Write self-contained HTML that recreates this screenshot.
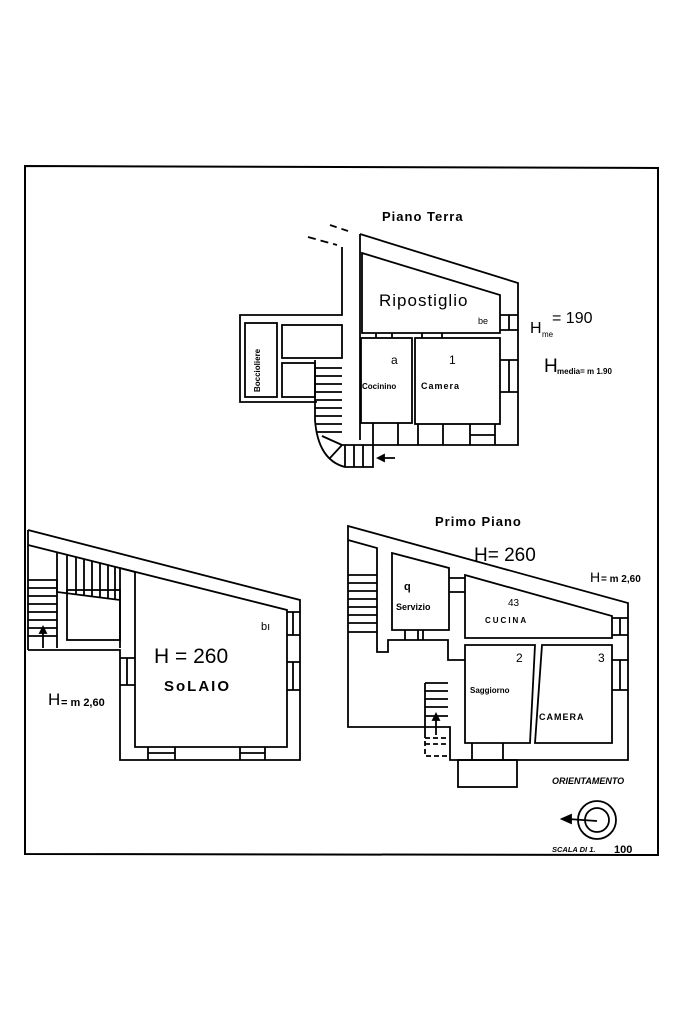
<!DOCTYPE html>
<html><head><meta charset="utf-8"><style>
html,body{margin:0;padding:0;background:#fff;}
svg{display:block}
text{font-family:"Liberation Sans",sans-serif;fill:#000}
</style></head><body>
<svg width="683" height="1023" viewBox="0 0 683 1023" xmlns="http://www.w3.org/2000/svg">
<g fill="none" stroke="#000" stroke-width="1.8">
<!-- frame -->
<path d="M25 166 L658 168 L658 855 L25 854 Z" stroke-width="2"/>

<!-- PIANO TERRA -->
<line x1="330" y1="225" x2="348" y2="231" stroke-dasharray="7,5"/>
<line x1="308" y1="237" x2="337" y2="245" stroke-dasharray="8,5"/>
<path d="M360 234 L518 283 L518 445 L342 445"/>
<path d="M342 247 L342 315 L240 315 L240 402 L317 402"/>
<path d="M362 253 L500 295 L500 333 L362 333 Z"/>
<rect x="361" y="338" width="51" height="85"/>
<rect x="415" y="338" width="85" height="86"/>
<rect x="245" y="323" width="32" height="74"/>
<rect x="282" y="325" width="60" height="33"/>
<rect x="282" y="363" width="33" height="34"/>
<line x1="360" y1="234" x2="360" y2="440"/>
<!-- windows -->
<path d="M500 315 H518 M500 330 H518 M509 315 V330"/>
<path d="M500 360 H518 M500 392 H518 M509 360 V392"/>
<path d="M373 423 V445 M398 423 V445 M418 424 V445 M443 424 V445 M470 424 V445 M495 424 V445 M470 435 H495"/>
<path d="M376 333 V338 M392 333 V338 M422 333 V338 M442 333 V338"/>
<!-- stairs -->
<path d="M315 360 L315 420 Q318 460 345 467 L373 467 L373 445"/>
<path d="M315 368 H342 M315 376 H342 M315 384 H342 M315 392 H342 M315 400 H342 M315 408 H342 M315 416 H342 M315 424 H342 M317 432 H342 M342 445 L322 436 M342 445 L330 458 M345 445 V467 M354 445 V467 M363 445 V467"/>
<path d="M395 458 H378"/>
<path d="M378 458 l6 -3 v6 z" fill="#000"/>

<!-- SOLAIO -->
<path d="M28 530 L300 600 L300 760 L120 760 L120 650 L28 650"/>
<path d="M28 530 L28 650"/>
<path d="M28 545 L287 610 L287 747 L135 747 L135 572"/>
<path d="M135 572 L120 568 L120 648"/>
<rect x="67" y="590" width="53" height="50"/>
<path d="M57 552 V592 L120 600 M67 555 V592 M76 557 V594 M84 559 V595 M92 561 V596 M100 563 V597 M108 565 V598 M115 567 V599"/>
<path d="M28 580 H57 V648 M28 588 H57 M28 596 H57 M28 604 H57 M28 612 H57 M28 620 H57 M28 628 H57 M28 636 H57"/>
<path d="M43 648 V630"/><path d="M43 627 l-3 6 h6 z" fill="#000"/>
<path d="M120 658 H135 M120 685 H135 M127 658 V685"/>
<path d="M287 612 H300 M287 635 H300 M293 612 V635 M287 662 H300 M287 690 H300 M293 662 V690"/>
<path d="M148 747 V760 M175 747 V760 M240 747 V760 M265 747 V760 M148 753 H175 M240 753 H265"/>

<!-- PRIMO PIANO -->
<path d="M348 526 L628 603 L628 760 L450 760 L450 727 L348 727 Z"/>
<path d="M348 540 L377 548 L377 652 L388 652 L388 640 L448 640 L448 660 L465 660"/>
<path d="M392 553 L449 568 L449 630 L392 630 Z"/>
<path d="M465 575 L612 616 L612 638 L465 638 Z"/>
<path d="M465 645 L535 645 L530 743 L465 743 Z"/>
<path d="M542 645 L612 645 L612 743 L535 743 Z"/>
<path d="M449 578 H465 M449 592 H465"/>
<path d="M612 618 H628 M612 635 H628 M620 618 V635 M612 660 H628 M612 690 H628 M620 660 V690"/>
<path d="M405 630 V640 M418 630 V640 M423 630 V640"/>
<path d="M472 743 V760 M503 743 V760"/>
<rect x="458" y="760" width="59" height="27"/>
<path d="M348 575 H377 M348 583 H377 M348 591 H377 M348 599 H377 M348 607 H377 M348 615 H377 M348 623 H377 M348 632 H377"/>
<path d="M425 683 H448 M425 683 V733 M425 691 H448 M425 699 H448 M425 707 H448 M425 716 H448"/>
<path d="M436 735 V718"/><path d="M436 714 l-3 6 h6 z" fill="#000"/>
<path d="M425 733 V756 H448 M425 744 H448 M425 738 H448" stroke-dasharray="5,3"/>

<!-- orientation -->
<circle cx="597" cy="820" r="19"/>
<circle cx="597" cy="820" r="12"/>
<path d="M597 821 L568 819"/>
<path d="M562 819 l9 -4 v8 z" fill="#000"/>
</g>

<g font-weight="bold">
<text x="382" y="221" font-size="13" letter-spacing="1">Piano Terra</text>
<text x="379" y="306" font-size="17" font-weight="normal" letter-spacing="1">Ripostiglio</text>
<text x="478" y="324" font-size="9" font-weight="normal">be</text>
<text x="530" y="333" font-size="16" font-weight="normal">H</text>
<text x="542" y="337" font-size="8" font-weight="normal">me</text>
<text x="552" y="323" font-size="16" font-weight="normal">= 190</text>
<text x="544" y="372" font-size="19" font-weight="normal">H</text>
<text x="557" y="374" font-size="8">media= m 1.90</text>
<text x="260" y="392" font-size="8" transform="rotate(-90 260 392)">Boccioliere</text>
<text x="391" y="364" font-size="12" font-weight="normal">a</text>
<text x="362" y="389" font-size="8">Cocinino</text>
<text x="449" y="364" font-size="12" font-weight="normal">1</text>
<text x="421" y="389" font-size="9" letter-spacing="1">Camera</text>

<text x="154" y="663" font-size="21" font-weight="normal">H = 260</text>
<text x="164" y="691" font-size="15" letter-spacing="2">SoLAIO</text>
<text x="48" y="705" font-size="17" font-weight="normal">H</text>
<text x="61" y="706" font-size="11">= m 2,60</text>
<text x="261" y="630" font-size="11" font-weight="normal">bı</text>

<text x="435" y="526" font-size="13" letter-spacing="1">Primo Piano</text>
<text x="474" y="561" font-size="19" font-weight="normal">H= 260</text>
<text x="590" y="582" font-size="14" font-weight="normal">H</text>
<text x="601" y="582" font-size="10">= m 2,60</text>
<text x="404" y="590" font-size="11">q</text>
<text x="396" y="610" font-size="9">Servizio</text>
<text x="508" y="606" font-size="10" font-weight="normal">43</text>
<text x="485" y="623" font-size="8" letter-spacing="2">CUCINA</text>
<text x="516" y="662" font-size="12" font-weight="normal">2</text>
<text x="470" y="693" font-size="8">Saggiorno</text>
<text x="598" y="662" font-size="12" font-weight="normal">3</text>
<text x="539" y="720" font-size="9" letter-spacing="1">CAMERA</text>

<text x="552" y="784" font-size="9" font-style="italic" font-family="Liberation Serif">ORIENTAMENTO</text>
<text x="552" y="852" font-size="7.5" font-style="italic" font-family="Liberation Serif">SCALA DI 1.</text>
<text x="614" y="853" font-size="11">100</text>
</g>
</svg>
</body></html>
